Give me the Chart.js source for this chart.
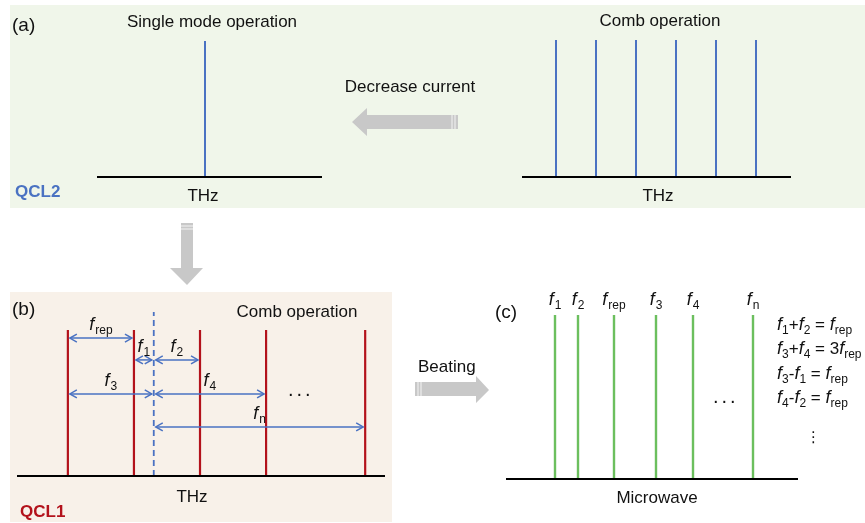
<!DOCTYPE html>
<html>
<head>
<meta charset="utf-8">
<script src="https://cdn.jsdelivr.net/npm/chart.js@4.4.1/dist/chart.umd.min.js"></script>
<style>
    body {
        margin: 0;
        width: 865px;
        height: 523px;
        position: relative;
        overflow: hidden;
        background: #fff;
        font-family: "Liberation Sans", Arial, sans-serif;
        color: #111;
    }
    .box { position: absolute; }
    .box--a { left: 10px; top: 5px; width: 855px; height: 203px; background: #f0f6ea; }
    .box--b { left: 10px; top: 292px; width: 382px; height: 230px; background: #f8f1e9; }
    canvas { position: absolute; left: 0; top: 0; }
    svg { position: absolute; left: 0; top: 0; }
    .t { position: absolute; line-height: 1; white-space: nowrap; }
    .t sub { font-size: 12px; vertical-align: -4px; line-height: 0; }
    .t i { font-size: 18px; }
</style>
</head>
<body>
<div class="box box--a"></div>
<div class="box box--b"></div>

<svg width="865" height="523">
    <g fill="#c8c8c8">
        <polygon points="352,122 367,108 367,115 458,115 458,129 367,129 367,136"/>
        <polygon points="181,223 193,223 193,268 203,268 187,285 170,268 181,268"/>
        <polygon points="415,382 476,382 476,376 489,390 476,403 476,396 415,396"/>
    </g>
    <g stroke="#fff" stroke-width="0.8">
        <line x1="452" y1="115" x2="452" y2="129"/><line x1="455" y1="115" x2="455" y2="129"/>
        <line x1="181" y1="226" x2="193" y2="226"/><line x1="181" y1="229" x2="193" y2="229"/>
        <line x1="418" y1="382" x2="418" y2="396"/><line x1="421" y1="382" x2="421" y2="396"/>
    </g>
</svg>

<canvas id="chartA1" width="865" height="523"></canvas>
<canvas id="chartA2" width="865" height="523"></canvas>
<canvas id="chartB" width="865" height="523"></canvas>
<canvas id="chartC" width="865" height="523"></canvas>

<script>
// mode positions (in mode-spacing units) and beat frequencies
const aLeftModes = [3];
const aRightModes = [1, 2, 3, 4, 5, 6];
const bModes = [1, 2, 3, 4, 5.5];
const bRefLine = 2.3;   // dashed line (QCL2 single mode)
const bArrowFrom = [1, 2, 2.3, 1, 2.3, 2.3];
const bArrowTo = [2, 2.3, 3, 2.3, 4, 5.5];
const bArrowLevel = [0.945, 0.795, 0.795, 0.562, 0.562, 0.336];
const bArrowNames = ['rep', '1', '2', '3', '4', 'n'];
const cBeatNames = ['1', '2', 'rep', '3', '4', 'n'];
const cBeatFreqs = [4.9, 7.2, 10.8, 15, 18.7, 24.7];
const eqLines = [
    '<i>f</i><sub>1</sub>+<i>f</i><sub>2</sub> = <i>f</i><sub>rep</sub>',
    '<i>f</i><sub>3</sub>+<i>f</i><sub>4</sub> = 3<i>f</i><sub>rep</sub>',
    '<i>f</i><sub>3</sub>-<i>f</i><sub>1</sub> = <i>f</i><sub>rep</sub>',
    '<i>f</i><sub>4</sub>-<i>f</i><sub>2</sub> = <i>f</i><sub>rep</sub>'
];

const W = 865, H = 523;
const BLUE = '#4a72c2', RED = '#b3121b', GREEN = '#6cbf5e';
const FONT = '"Liberation Sans", Arial, sans-serif';

function stems(xs, color, width, top, dash) {
    return xs.map(x => ({
        data: [{ x: x, y: 0 }, { x: x, y: top }],
        borderColor: color,
        borderWidth: width,
        borderDash: dash || [],
        showLine: true,
        pointRadius: 0,
        clip: false
    }));
}

function axisLine(min, max) {
    return {
        data: [{ x: min, y: 0 }, { x: max, y: 0 }],
        borderColor: '#000',
        borderWidth: 2.2,
        showLine: true,
        pointRadius: 0,
        clip: false
    };
}

// area = [left, top, right, bottom] in page pixels
function makeChart(id, area, xmin, xmax, datasets, plugins) {
    return new Chart(document.getElementById(id), {
        type: 'scatter',
        data: { datasets: datasets },
        options: {
            responsive: false,
            animation: false,
            events: [],
            layout: { padding: { left: area[0], top: area[1], right: W - area[2], bottom: H - area[3] } },
            plugins: { legend: { display: false }, tooltip: { enabled: false } },
            scales: {
                x: { type: 'linear', min: xmin, max: xmax, display: false },
                y: { min: 0, max: 1, display: false }
            }
        },
        plugins: plugins || []
    });
}

// italic f with subscript, centred at cx
function fLabel(ctx, cx, base, sub) {
    ctx.font = 'italic 18px ' + FONT;
    const wf = ctx.measureText('f').width;
    ctx.font = '12px ' + FONT;
    const ws = ctx.measureText(sub).width;
    const x0 = cx - (wf + ws + 1) / 2;
    ctx.fillStyle = '#111';
    ctx.textBaseline = 'alphabetic';
    ctx.textAlign = 'left';
    ctx.font = 'italic 18px ' + FONT;
    ctx.fillText('f', x0, base);
    ctx.font = '12px ' + FONT;
    ctx.fillText(sub, x0 + wf + 1, base + 4);
}

function arrowHead(ctx, x, y, dir) {
    ctx.beginPath();
    ctx.moveTo(x + dir * 7, y - 4);
    ctx.lineTo(x, y);
    ctx.lineTo(x + dir * 7, y + 4);
    ctx.stroke();
}

const bArrowPlugin = {
    id: 'bArrows',
    afterDatasetsDraw(chart) {
        const { ctx, scales: { x, y } } = chart;
        ctx.save();
        ctx.strokeStyle = BLUE;
        ctx.lineWidth = 1.5;
        bArrowFrom.forEach((f, i) => {
            const x0 = x.getPixelForValue(f) + 2;
            const x1 = x.getPixelForValue(bArrowTo[i]) - 2;
            const yy = y.getPixelForValue(bArrowLevel[i]);
            ctx.beginPath();
            ctx.moveTo(x0, yy);
            ctx.lineTo(x1, yy);
            ctx.stroke();
            arrowHead(ctx, x0, yy, 1);
            arrowHead(ctx, x1, yy, -1);
            fLabel(ctx, (x0 + x1) / 2, yy - 8, bArrowNames[i]);
        });
        ctx.restore();
    }
};

const cLabelPlugin = {
    id: 'cLabels',
    afterDatasetsDraw(chart) {
        const { ctx, scales: { x } } = chart;
        ctx.save();
        cBeatFreqs.forEach((f, i) => {
            fLabel(ctx, x.getPixelForValue(f), chart.chartArea.top - 10, cBeatNames[i]);
        });
        ctx.restore();
    }
};

// (a) single mode, QCL2
makeChart('chartA1', [97, 41, 322, 177], 0.3, 5.925,
    [axisLine(0.3, 5.925)].concat(stems(aLeftModes, BLUE, 2, 1)));
// (a) comb
makeChart('chartA2', [522, 40, 791, 177], 0.15, 6.875,
    [axisLine(0.15, 6.875)].concat(stems(aRightModes, BLUE, 2, 1)));
// (b) comb QCL1
makeChart('chartB', [17, 330, 385, 476], 0.23, 5.8,
    [axisLine(0.23, 5.8)]
        .concat(stems(bModes, RED, 2.2, 1))
        .concat(stems([bRefLine], BLUE, 1.8, 1.123, [6, 4])),
    [bArrowPlugin]);
// (c) microwave beat notes
makeChart('chartC', [506, 315, 798, 479], 0, 29.2,
    [axisLine(0, 29.2)].concat(stems(cBeatFreqs, GREEN, 2.4, 1)),
    [cLabelPlugin]);

// text
function txt(html, x, base, size, opts) {
    opts = opts || {};
    const d = document.createElement('div');
    d.className = 't';
    d.innerHTML = html;
    d.style.fontSize = size + 'px';
    d.style.top = (base - 0.8465 * size) + 'px';
    if (opts.center) {
        d.style.left = (x - 200) + 'px';
        d.style.width = '400px';
        d.style.textAlign = 'center';
    } else {
        d.style.left = x + 'px';
    }
    if (opts.style) Object.assign(d.style, opts.style);
    document.body.appendChild(d);
}

txt('(a)', 12, 31.5, 19);
txt('Single mode operation', 212, 27, 17, { center: true });
txt('Comb operation', 660, 26, 17, { center: true });
txt('Decrease current', 410, 92, 17, { center: true });
txt('THz', 203, 201, 17, { center: true });
txt('THz', 658, 201, 17, { center: true });
txt('QCL2', 15, 197, 17, { style: { fontWeight: 'bold', color: BLUE } });

txt('(b)', 12, 315, 19);
txt('Comb operation', 297, 317, 17, { center: true });
txt('THz', 192, 502, 17, { center: true });
txt('QCL1', 20, 517, 17, { style: { fontWeight: 'bold', color: RED } });
txt('...', 288, 396, 20, { style: { letterSpacing: '3px' } });

txt('Beating', 418, 372, 17);

txt('(c)', 495, 318, 19);
txt('Microwave', 657, 503, 17, { center: true });
txt('...', 713, 403, 20, { style: { letterSpacing: '3px' } });
eqLines.forEach((s, i) => txt(s, 777, 329 + i * 24.5, 17));
txt('&#8942;', 806, 443, 15, { style: { fontFamily: '"DejaVu Sans", sans-serif' } });
</script>
</body>
</html>
